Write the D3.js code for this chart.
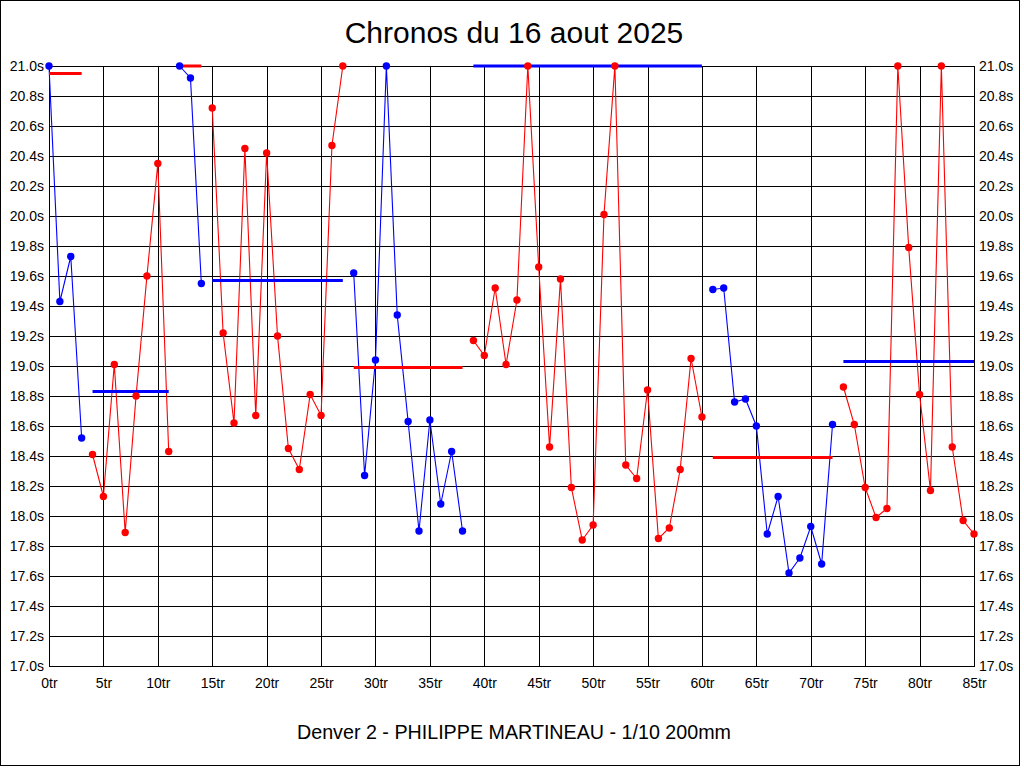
<!DOCTYPE html>
<html>
<head>
<meta charset="utf-8">
<script src="https://cdn.jsdelivr.net/npm/d3@7"></script>
<style>
  html, body { margin: 0; padding: 0; background: #fff; }
  svg { display: block; font-family: "Liberation Sans", Arial, sans-serif; }
</style>
</head>
<body>
<svg id="chart" width="1024" height="768"></svg>
<script>
// ---- Data ----
const title = "Chronos du 16 aout 2025";
const subtitle = "Denver 2 - PHILIPPE MARTINEAU - 1/10 200mm";

// lap time (s) for laps 0..85 (values above 21.0s are shown clipped at 21.0)
const lapTimes = [
  21.00, 19.43, 19.73, 18.52,                                           // stint 1 (0-3)
  18.41, 18.13, 19.01, 17.89, 18.80, 19.60, 20.35, 18.43,               // stint 2 (4-11)
  21.00, 20.92, 19.55,                                                  // stint 3 (12-14)
  20.72, 19.22, 18.62, 20.45, 18.67, 20.42, 19.20, 18.45, 18.31, 18.81, 18.67, 20.47, 21.00, // stint 4 (15-27)
  19.62, 18.27, 19.04, 21.00, 19.34, 18.63, 17.90, 18.64, 18.08, 18.43, 17.90,               // stint 5 (28-38)
  19.17, 19.07, 19.52, 19.01, 19.44, 21.00, 19.66, 18.46, 19.58, 18.19, 17.84,
  17.94, 20.01, 21.00, 18.34, 18.25, 18.84, 17.85, 17.92, 18.31, 19.05, 18.66,               // stint 6 (39-60)
  19.51, 19.52, 18.76, 18.78, 18.60, 17.88, 18.13, 17.62, 17.72, 17.93, 17.68, 18.61,        // stint 7 (61-72)
  18.86, 18.61, 18.19, 17.99, 18.05, 21.00, 19.79, 18.81, 18.17, 21.00, 18.46, 17.97, 17.88  // stint 8 (73-85)
];
const stintStarts = [0, 4, 12, 15, 28, 39, 61, 73];
const stintEnds   = [3, 11, 14, 27, 38, 60, 72, 85];
const stintAverages = [20.95, 18.83, 21.00, 19.57, 18.99, 21.00, 18.39, 19.03];

const xTicks = d3.range(0, 86, 5);
const yTicks = d3.range(0, 21).map(i => +(17 + i * 0.2).toFixed(1));

// ---- Layout ----
const svg = d3.select("#chart");
const pL = 49, pR = 974, pT = 66, pB = 666;
const x = d3.scaleLinear().domain([0, 85]).range([pL, pR]);
const y = d3.scaleLinear().domain([17, 21]).range([pB, pT]);
const BLUE = "#0000ff", RED = "#ff0000";

// outer frame
svg.append("rect").attr("x", 0.5).attr("y", 0.5).attr("width", 1019).attr("height", 765)
  .attr("fill", "#fff").attr("stroke", "#000").attr("stroke-width", 1);

// title & subtitle
svg.append("text").attr("x", 514).attr("y", 43).attr("text-anchor", "middle")
  .attr("font-size", 30).attr("fill", "#000").text(title);
svg.append("text").attr("x", 514).attr("y", 739).attr("text-anchor", "middle")
  .attr("font-size", 19.7).attr("fill", "#000").text(subtitle);

function styleAxis(g) {
  g.selectAll("path.domain").attr("stroke", "#000").attr("shape-rendering", "crispEdges");
  g.selectAll(".tick line").attr("stroke", "#000").attr("shape-rendering", "crispEdges");
  g.selectAll("text").attr("fill", "#000").attr("font-size", 14)
    .attr("font-family", "'Liberation Sans', Arial, sans-serif");
}

// x axis with vertical grid
const gx = svg.append("g").attr("transform", `translate(0,${pB})`)
  .call(d3.axisBottom(x).tickValues(xTicks).tickSize(-(pB - pT)).tickSizeOuter(0)
    .tickPadding(12).tickFormat(d => d + "tr"));
styleAxis(gx);

// left y axis with horizontal grid
const gyl = svg.append("g").attr("transform", `translate(${pL},0)`)
  .call(d3.axisLeft(y).tickValues(yTicks).tickSize(-(pR - pL)).tickSizeOuter(0)
    .tickPadding(5).tickFormat(d => d.toFixed(1) + "s"));
styleAxis(gyl);

// right y axis (labels only)
const gyr = svg.append("g").attr("transform", `translate(${pR},0)`)
  .call(d3.axisRight(y).tickValues(yTicks).tickSize(0).tickSizeOuter(0)
    .tickPadding(5).tickFormat(d => d.toFixed(1) + "s"));
styleAxis(gyr);

// ---- Series ----
const line = d3.line().x(d => x(d.lap)).y(d => y(d.t));
const stints = stintStarts.map((s, i) => ({
  color: i % 2 === 0 ? BLUE : RED,
  avgColor: i % 2 === 0 ? RED : BLUE,
  start: s, end: stintEnds[i], avg: stintAverages[i],
  pts: d3.range(s, stintEnds[i] + 1).map(l => ({ lap: l, t: lapTimes[l] }))
}));

const plot = svg.append("g");
plot.selectAll("path.stint").data(stints).enter().append("path")
  .attr("class", "stint")
  .attr("d", d => line(d.pts)).attr("fill", "none")
  .attr("stroke", d => d.color).attr("stroke-width", 1.1);

plot.selectAll("line.avg").data(stints).enter().append("line")
  .attr("class", "avg")
  .attr("x1", d => x(d.start)).attr("x2", d => x(d.end))
  .attr("y1", d => y(d.avg)).attr("y2", d => y(d.avg))
  .attr("stroke", d => d.avgColor).attr("stroke-width", 3);

stints.forEach(s => {
  plot.selectAll(null).data(s.pts).enter().append("circle")
    .attr("cx", d => x(d.lap)).attr("cy", d => y(d.t)).attr("r", 3.7)
    .attr("fill", s.color);
});
</script>
</body>
</html>
